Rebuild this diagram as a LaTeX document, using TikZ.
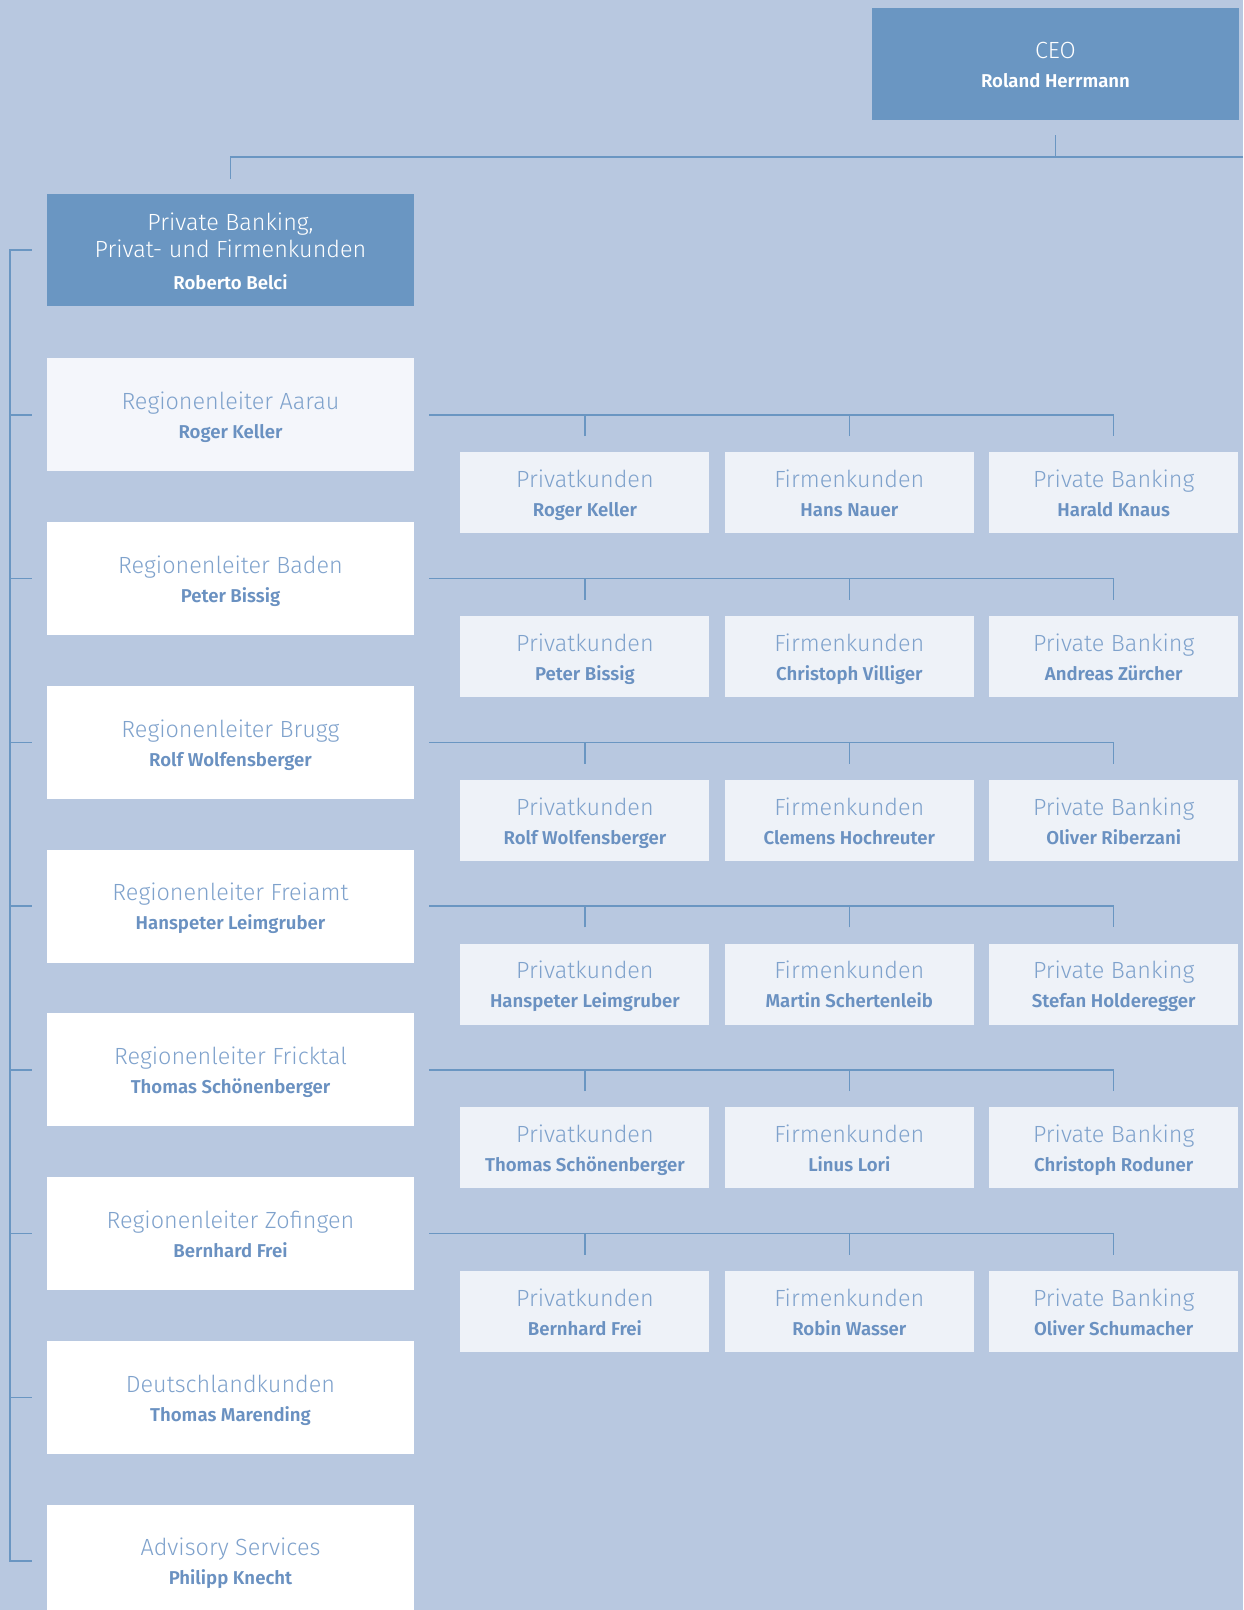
\documentclass[tikz,border=0pt]{standalone}
\usepackage{fontspec}
\setmainfont{Fira Sans}
\newfontfamily\lightfont{Fira Sans Light}
\usetikzlibrary{positioning}
\definecolor{bgblue}{HTML}{B8C8E0}
\definecolor{midblue}{HTML}{6A96C2}
\definecolor{paleblue}{HTML}{EEF2F8}
\definecolor{firstblue}{HTML}{F4F6FB}
\definecolor{txtblue}{HTML}{7FA2CC}
\definecolor{namblue}{HTML}{6A91C1}
\newcommand{\nm}[1]{{\fontsize{18.6}{29}\selectfont\bfseries #1}}

\begin{document}
\begin{tikzpicture}[x=1pt,y=-1pt,node distance=50.35pt,
  link/.style={draw=midblue,line width=1.5pt},
  box/.style={rectangle,inner sep=0pt,align=center,text height=51.6pt,text depth=4pt,
              font=\lightfont\fontsize{23.4}{29}\selectfont},
  head/.style={box,fill=midblue,text=white,minimum width=367pt,minimum height=112pt},
  region/.style={box,fill=white,text=txtblue,minimum width=367pt,minimum height=113pt},
  desk/.style={box,fill=paleblue,text=txtblue,minimum width=249pt,minimum height=81pt}]

  \path[use as bounding box,fill=bgblue] (0,0) rectangle (1243,1610);
  \clip (0,0) rectangle (1243,1610);

  \node[head]   (ceo) at (1055.5,64) {CEO\\\nm{Roland Herrmann}};
  \node[head,text height=83pt,font=\lightfont\fontsize{23.4}{27.7}\selectfont]
                (pb)  at (230.5,250) {Private Banking,\\Privat- und Firmenkunden\\[4pt]\nm{Roberto Belci}};

  \node[region,fill=firstblue] (aarau) [below=52pt of pb] {Regionenleiter Aarau\\\nm{\color{namblue}Roger Keller}};
  \node[region] (baden)    [below=of aarau]    {Regionenleiter Baden\\\nm{\color{namblue}Peter Bissig}};
  \node[region] (brugg)    [below=of baden]    {Regionenleiter Brugg\\\nm{\color{namblue}Rolf Wolfensberger}};
  \node[region] (freiamt)  [below=of brugg]    {Regionenleiter Freiamt\\\nm{\color{namblue}Hanspeter Leimgruber}};
  \node[region] (fricktal) [below=of freiamt]  {Regionenleiter Fricktal\\\nm{\color{namblue}Thomas Schönenberger}};
  \node[region] (zofingen) [below=of fricktal] {Regionenleiter Zofingen\\\nm{\color{namblue}Bernhard Frei}};
  \node[region] (deutsch)  [below=of zofingen] {Deutschlandkunden\\\nm{\color{namblue}Thomas Marending}};
  \node[region] (advisory) [below=of deutsch]  {Advisory Services\\\nm{\color{namblue}Philipp Knecht}};

  % Aarau
  \node[desk] (pkAarau) [right=46pt of aarau,yshift=-78pt] {Privatkunden\\\nm{\color{namblue}Roger Keller}};
  \node[desk] (fkAarau) [right=15pt of pkAarau] {Firmenkunden\\\nm{\color{namblue}Hans Nauer}};
  \node[desk] (pbAarau) [right=15pt of fkAarau] {Private Banking\\\nm{\color{namblue}Harald Knaus}};
  % Baden
  \node[desk] (pkBaden) [right=46pt of baden,yshift=-78pt] {Privatkunden\\\nm{\color{namblue}Peter Bissig}};
  \node[desk] (fkBaden) [right=15pt of pkBaden] {Firmenkunden\\\nm{\color{namblue}Christoph Villiger}};
  \node[desk] (pbBaden) [right=15pt of fkBaden] {Private Banking\\\nm{\color{namblue}Andreas Zürcher}};
  % Brugg
  \node[desk] (pkBrugg) [right=46pt of brugg,yshift=-78pt] {Privatkunden\\\nm{\color{namblue}Rolf Wolfensberger}};
  \node[desk] (fkBrugg) [right=15pt of pkBrugg] {Firmenkunden\\\nm{\color{namblue}Clemens Hochreuter}};
  \node[desk] (pbBrugg) [right=15pt of fkBrugg] {Private Banking\\\nm{\color{namblue}Oliver Riberzani}};
  % Freiamt
  \node[desk] (pkFreiamt) [right=46pt of freiamt,yshift=-78pt] {Privatkunden\\\nm{\color{namblue}Hanspeter Leimgruber}};
  \node[desk] (fkFreiamt) [right=15pt of pkFreiamt] {Firmenkunden\\\nm{\color{namblue}Martin Schertenleib}};
  \node[desk] (pbFreiamt) [right=15pt of fkFreiamt] {Private Banking\\\nm{\color{namblue}Stefan Holderegger}};
  % Fricktal
  \node[desk] (pkFricktal) [right=46pt of fricktal,yshift=-78pt] {Privatkunden\\\nm{\color{namblue}Thomas Schönenberger}};
  \node[desk] (fkFricktal) [right=15pt of pkFricktal] {Firmenkunden\\\nm{\color{namblue}Linus Lori}};
  \node[desk] (pbFricktal) [right=15pt of fkFricktal] {Private Banking\\\nm{\color{namblue}Christoph Roduner}};
  % Zofingen
  \node[desk] (pkZofingen) [right=46pt of zofingen,yshift=-78pt] {Privatkunden\\\nm{\color{namblue}Bernhard Frei}};
  \node[desk] (fkZofingen) [right=15pt of pkZofingen] {Firmenkunden\\\nm{\color{namblue}Robin Wasser}};
  \node[desk] (pbZofingen) [right=15pt of fkZofingen] {Private Banking\\\nm{\color{namblue}Oliver Schumacher}};

  % CEO bar
  \coordinate (barR)  at (1243,157);
  \coordinate (spine) at (10,0);
  \draw[link] ([yshift=-15pt]ceo.south) -- (ceo.south |- barR);
  \draw[link] (barR) -| ([yshift=15pt]pb.north);

  % left spine
  \draw[link] ([xshift=-15pt]pb.west) -- (pb.west -| spine) -- (advisory.west -| spine) -- ([xshift=-15pt]advisory.west);
  \draw[link] ([xshift=-15pt]aarau.west)    -- (aarau.west -| spine);
  \draw[link] ([xshift=-15pt]baden.west)    -- (baden.west -| spine);
  \draw[link] ([xshift=-15pt]brugg.west)    -- (brugg.west -| spine);
  \draw[link] ([xshift=-15pt]freiamt.west)  -- (freiamt.west -| spine);
  \draw[link] ([xshift=-15pt]fricktal.west) -- (fricktal.west -| spine);
  \draw[link] ([xshift=-15pt]zofingen.west) -- (zofingen.west -| spine);
  \draw[link] ([xshift=-15pt]deutsch.west)  -- (deutsch.west -| spine);

  % regions to desks
  \draw[link] ([xshift=15pt]aarau.east) -| ([yshift=16pt]pbAarau.north);
  \draw[link] ([yshift=16pt]pkAarau.north) -- (pkAarau.north |- aarau.east);
  \draw[link] ([yshift=16pt]fkAarau.north) -- (fkAarau.north |- aarau.east);

  \draw[link] ([xshift=15pt]baden.east) -| ([yshift=16pt]pbBaden.north);
  \draw[link] ([yshift=16pt]pkBaden.north) -- (pkBaden.north |- baden.east);
  \draw[link] ([yshift=16pt]fkBaden.north) -- (fkBaden.north |- baden.east);

  \draw[link] ([xshift=15pt]brugg.east) -| ([yshift=16pt]pbBrugg.north);
  \draw[link] ([yshift=16pt]pkBrugg.north) -- (pkBrugg.north |- brugg.east);
  \draw[link] ([yshift=16pt]fkBrugg.north) -- (fkBrugg.north |- brugg.east);

  \draw[link] ([xshift=15pt]freiamt.east) -| ([yshift=16pt]pbFreiamt.north);
  \draw[link] ([yshift=16pt]pkFreiamt.north) -- (pkFreiamt.north |- freiamt.east);
  \draw[link] ([yshift=16pt]fkFreiamt.north) -- (fkFreiamt.north |- freiamt.east);

  \draw[link] ([xshift=15pt]fricktal.east) -| ([yshift=16pt]pbFricktal.north);
  \draw[link] ([yshift=16pt]pkFricktal.north) -- (pkFricktal.north |- fricktal.east);
  \draw[link] ([yshift=16pt]fkFricktal.north) -- (fkFricktal.north |- fricktal.east);

  \draw[link] ([xshift=15pt]zofingen.east) -| ([yshift=16pt]pbZofingen.north);
  \draw[link] ([yshift=16pt]pkZofingen.north) -- (pkZofingen.north |- zofingen.east);
  \draw[link] ([yshift=16pt]fkZofingen.north) -- (fkZofingen.north |- zofingen.east);
\end{tikzpicture}
\end{document}
